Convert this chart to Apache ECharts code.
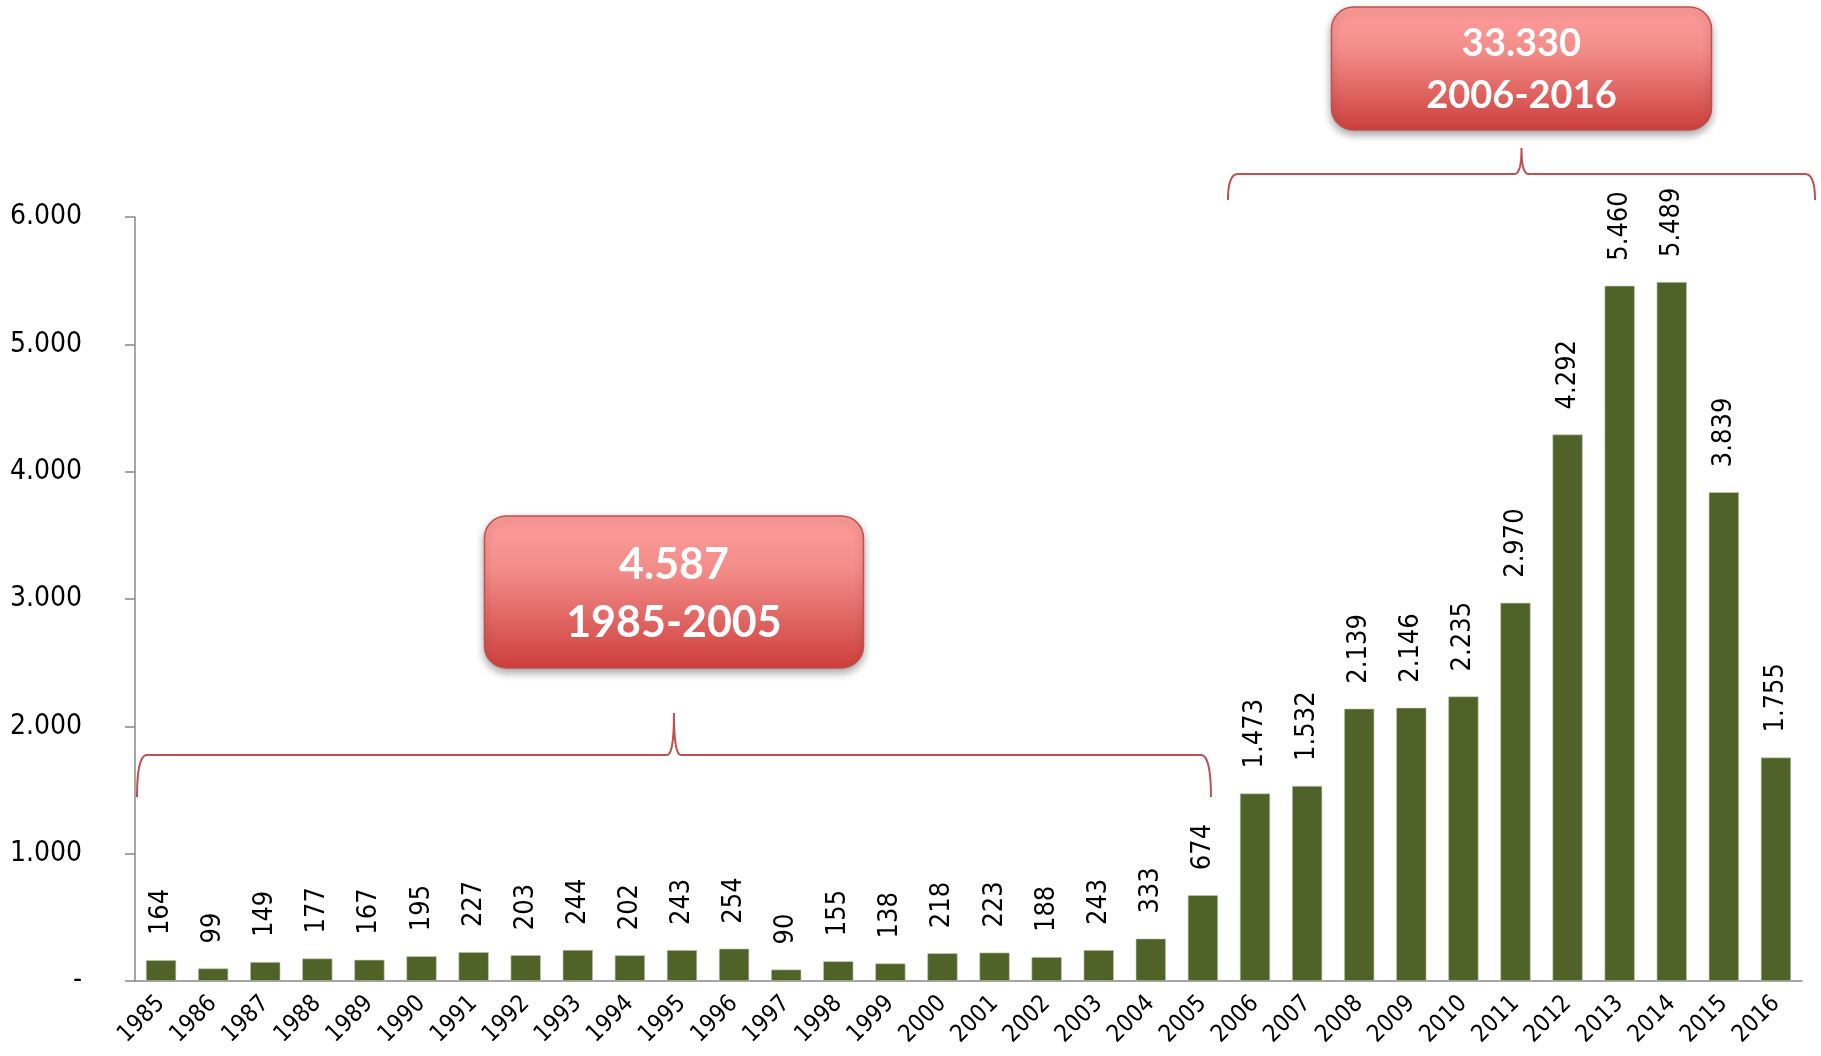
<!DOCTYPE html>
<html>
<head>
<meta charset="utf-8">
<script src="https://cdn.jsdelivr.net/npm/echarts@6/dist/echarts.min.js"></script>
<style>
  html, body { margin: 0; padding: 0; background: #fff; }
  #chart { width: 1821px; height: 1056px; }
</style>
</head>
<body>
<div id="chart"></div>
<script>
// anni
const years = ['1985', '1986', '1987', '1988', '1989', '1990', '1991', '1992', '1993', '1994', '1995',
  '1996', '1997', '1998', '1999', '2000', '2001', '2002', '2003', '2004', '2005',
  '2006', '2007', '2008', '2009', '2010', '2011', '2012', '2013', '2014', '2015', '2016']
// valori per anno
const counts = [164, 99, 149, 177, 167, 195, 227, 203, 244, 202, 243,
  254, 90, 155, 138, 218, 223, 188, 243, 333, 674,
  1473, 1532, 2139, 2146, 2235, 2970, 4292, 5460, 5489, 3839, 1755]
// riquadri riassuntivi
const groupTotals = ['4.587', '33.330']
const groupRanges = ['1985-2005', '2006-2016']

const fmt = v => String(v).replace(/\B(?=(\d{3})+(?!\d))/g, '.')
const FONT = '"DejaVu Sans Condensed", "DejaVu Sans", sans-serif'

const chart = echarts.init(document.getElementById('chart'))

chart.setOption({
  animation: false,
  grid: { left: 135, right: 19, top: 217, bottom: 75, containLabel: false },
  xAxis: {
    type: 'category',
    data: years,
    axisLine: { lineStyle: { color: '#888', width: 1.5 } },
    axisTick: { length: 8, lineStyle: { color: '#888', width: 1.5 } },
    axisLabel: {
      rotate: 45,
      margin: 19,
      color: '#000',
      fontSize: 24,
      fontFamily: FONT,
      interval: 0
    }
  },
  yAxis: {
    type: 'value',
    min: 0,
    max: 6000,
    interval: 1000,
    splitLine: { show: false },
    axisLine: { show: true, lineStyle: { color: '#888', width: 1.5 } },
    axisTick: { show: true, length: 10, lineStyle: { color: '#888', width: 1.5 } },
    axisLabel: {
      margin: 53,
      color: '#000',
      fontSize: 28,
      fontFamily: FONT,
      formatter: v => (v === 0 ? '-' : fmt(v))
    }
  },
  series: [
    {
      type: 'bar',
      data: counts,
      barCategoryGap: '42%',
      itemStyle: { color: '#4f6228', borderColor: '#c9cfbd', borderWidth: 0.6 },
      label: {
        show: true,
        position: 'top',
        rotate: 90,
        align: 'left',
        verticalAlign: 'middle',
        distance: 25,
        color: '#000',
        fontSize: 27,
        fontFamily: FONT,
        formatter: p => fmt(p.value)
      }
    }
  ]
})

// graffe e riquadri
const xAt = i => chart.convertToPixel({ xAxisIndex: 0 }, i)
const band = xAt(1) - xAt(0)

function quad(p0, p1, p2, n) {
  const pts = []
  for (let k = 0; k <= n; k++) {
    const t = k / n
    const a = (1 - t) * (1 - t), b = 2 * (1 - t) * t, c = t * t
    pts.push([a * p0[0] + b * p1[0] + c * p2[0], a * p0[1] + b * p1[1] + c * p2[1]])
  }
  return pts
}

function brace(x1, x2, yLine, yEnd, yPeak) {
  const xm = (x1 + x2) / 2
  const r = 10
  let pts = []
  pts = pts.concat(quad([x1, yEnd], [x1, yLine], [x1 + r, yLine], 12))
  pts = pts.concat(quad([xm - 7, yLine], [xm, yLine], [xm, yPeak], 12))
  pts = pts.concat(quad([xm, yPeak], [xm, yLine], [xm + 7, yLine], 12))
  pts = pts.concat(quad([x2 - r, yLine], [x2, yLine], [x2, yEnd], 12))
  return {
    type: 'polyline',
    shape: { points: pts },
    style: { stroke: '#c0504d', lineWidth: 2, fill: null }
  }
}

function box(cx, top, w, h, l1, l2, y1, y2, fs) {
  const font = 'bold ' + fs + 'px Lato'
  return [
    {
      type: 'rect',
      shape: { x: cx - w / 2, y: top, width: w, height: h, r: 22 },
      style: {
        fill: {
          type: 'linear', x: 0, y: 0, x2: 0, y2: 1,
          colorStops: [
            { offset: 0, color: '#ff9d9a' },
            { offset: 0.35, color: '#f38d8a' },
            { offset: 1, color: '#cd3f3c' }
          ]
        },
        stroke: '#c0504d',
        lineWidth: 1.5,
        shadowBlur: 8,
        shadowOffsetY: 4,
        shadowColor: 'rgba(0,0,0,0.35)'
      }
    },
    {
      type: 'text', x: cx, y: y1,
      style: { text: l1, fill: '#fff', font: font, align: 'center', verticalAlign: 'middle' }
    },
    {
      type: 'text', x: cx, y: y2,
      style: { text: l2, fill: '#fff', font: font, align: 'center', verticalAlign: 'middle' }
    }
  ]
}

const lowL = xAt(0) - band / 2 + 2
const lowR = xAt(20) + 8
const upL = xAt(21) - band / 2 - 1
const upR = xAt(years.length - 1) + band / 2 + 13

chart.setOption({
  graphic: [
    brace(lowL, lowR, 755, 797, 713),
    brace(upL, upR, 174, 200, 148),
    ...box((lowL + lowR) / 2, 516, 379, 152, groupTotals[0], groupRanges[0], 565, 623, 43),
    ...box((upL + upR) / 2, 7, 380, 123, groupTotals[1], groupRanges[1], 44, 96, 38)
  ]
})
</script>
</body>
</html>
